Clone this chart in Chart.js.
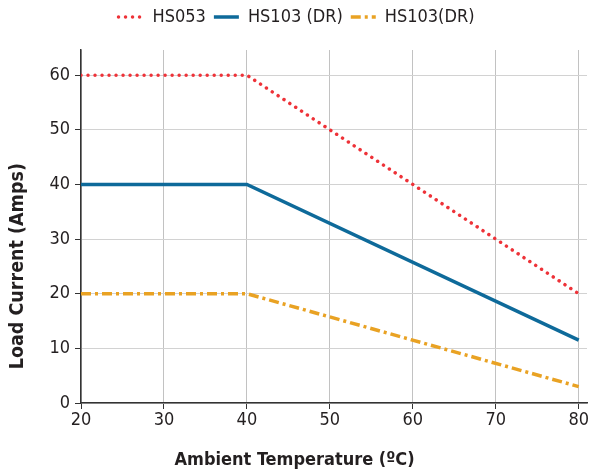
<!DOCTYPE html>
<html lang="en">
<head>
  <meta charset="UTF-8">
  <title>Load Current vs Ambient Temperature</title>
  <script src="https://cdn.jsdelivr.net/npm/chart.js"></script>
  <style>
    html, body { margin: 0; padding: 0; background: #fff; }
    #wrap { width: 591px; height: 475px; }
  </style>
</head>
<body>
  <div id="wrap"><canvas id="derating"></canvas></div>

  <script>
    // values
    const temps = [20, 40, 80];
    const hs053 = [60, 60, 20];
    const hs103dr = [40, 40, 11.5];
    const hs103dr2 = [20, 20, 3];
    const xTicks = [20, 30, 40, 50, 60, 70, 80];
    const yTicks = [0, 10, 20, 30, 40, 50, 60];

    const FONT = "'DejaVu Sans Condensed', 'Liberation Sans Narrow', Roboto, sans-serif";
    const TXT = '#231f20';

    const pts = (ys) => temps.map((t, i) => ({ x: t, y: ys[i] }));

    // titles are not centred on the plot in the original, pad them with spaces
    function padTitle(text, shift, size) {
      const c = document.createElement('canvas').getContext('2d');
      c.font = 'bold ' + size + 'px ' + FONT;
      let pad = '';
      while (c.measureText(pad).width < shift * 2) pad += ' ';
      return text + pad;
    }

    // legend needs the dataset dash, not the point style
    function legendLabels(chart) {
      const items = Chart.defaults.plugins.legend.labels.generateLabels(chart);
      items.forEach((it) => {
        const ds = chart.data.datasets[it.datasetIndex];
        it.strokeStyle = ds.borderColor;
        it.lineWidth = ds.borderWidth;
        it.lineDash = ds.borderDash || [];
        it.lineCap = ds.borderCapStyle || 'butt';
      });
      return items;
    }

    const legendGap = {
      id: 'legendGap',
      beforeInit(chart) {
        const fit = chart.legend.fit;
        chart.legend.fit = function () {
          fit.bind(chart.legend)();
          this.height += 14;
        };
      }
    };

    const ctx = document.getElementById('derating').getContext('2d');
    const chart = new Chart(ctx, {
      type: 'line',
      data: {
        datasets: [{
          label: 'HS053',
          data: pts(hs053),
          borderColor: '#ee3238',
          borderWidth: 3.5,
          borderDash: [0.01, 7],
          borderCapStyle: 'round',
          pointRadius: 0,
          fill: false
        }, {
          label: 'HS103 (DR)',
          data: pts(hs103dr),
          borderColor: '#0e6a9a',
          borderWidth: 3.5,
          pointRadius: 0,
          fill: false
        }, {
          label: 'HS103(DR)',
          data: pts(hs103dr2),
          borderColor: '#e9a223',
          borderWidth: 3.5,
          borderDash: [10, 4, 3, 4],
          pointRadius: 0,
          fill: false
        }]
      },
      plugins: [legendGap],
      options: {
        responsive: true,
        maintainAspectRatio: false,
        animation: false,
        layout: { padding: { top: 0, right: 4, left: 6, bottom: 4 } },
        plugins: {
          tooltip: { enabled: false },
          legend: {
            position: 'top',
            labels: {
              usePointStyle: true,
              pointStyle: 'line',
              pointStyleWidth: 25,
              boxHeight: 4,
              padding: 8,
              color: TXT,
              font: { family: FONT, size: 18 },
              generateLabels: legendLabels
            }
          }
        },
        scales: {
          x: {
            type: 'linear',
            min: 20,
            max: 81,
            afterBuildTicks: (s) => { s.ticks = xTicks.map(v => ({ value: v })); },
            afterFit: (s) => { s.height = 68; },
            ticks: { color: TXT, font: { family: FONT, size: 18 }, padding: 1 },
            grid: { color: '#c2c2c2', lineWidth: 1, tickColor: '#333', tickLength: 6 },
            border: { color: '#333', width: 1.5 },
            title: {
              display: true,
              text: padTitle('Ambient Temperature (ºC)', 38, 18),
              color: TXT,
              font: { family: FONT, size: 18, weight: 'bold' },
              padding: { top: 0, bottom: 0 }
            }
          },
          y: {
            min: 0,
            max: 64.6,
            afterBuildTicks: (s) => { s.ticks = yTicks.map(v => ({ value: v })); },
            afterFit: (s) => { s.width = 75; },
            ticks: { color: TXT, font: { family: FONT, size: 18 }, padding: 5 },
            grid: { color: '#d2d2d2', lineWidth: 1, tickColor: '#333', tickLength: 6 },
            border: { color: '#333', width: 1.5 },
            title: {
              display: true,
              text: padTitle('Load Current (Amps)', 37, 19.5),
              color: TXT,
              font: { family: FONT, size: 19.5, weight: 'bold' },
              padding: { top: 0, bottom: 2 }
            }
          }
        }
      }
    });
  </script>
</body>
</html>
